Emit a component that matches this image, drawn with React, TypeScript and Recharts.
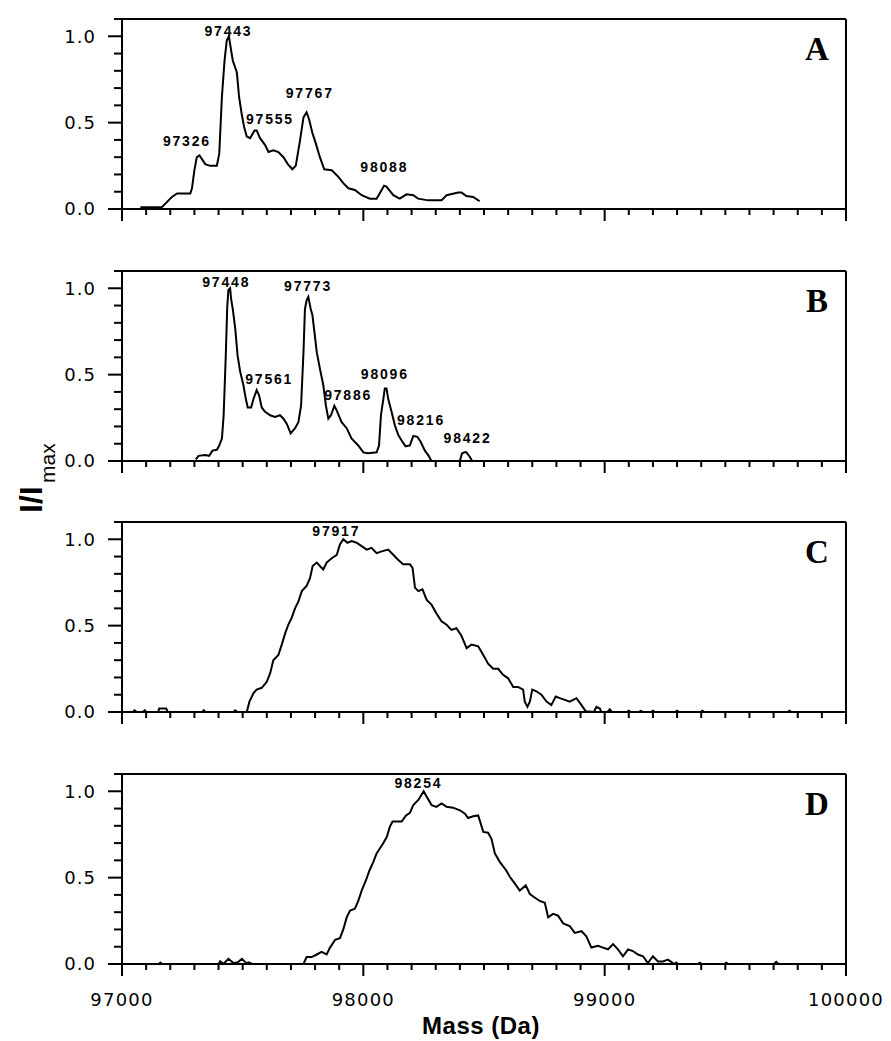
import React from 'react';
import { ComposedChart, Line, XAxis, YAxis, ReferenceLine, ReferenceDot } from 'recharts';

type Pt = [number, number];
type Peak = [number, number, string];

// Mass (Da), I/Imax
const traceA: Pt[] = [
  [97076, 0.01], [97165, 0.01], [97207, 0.07], [97228, 0.09], [97283, 0.09], [97290, 0.12], [97300, 0.225],
  [97310, 0.3], [97321, 0.31], [97345, 0.26], [97365, 0.25], [97393, 0.25], [97403, 0.32], [97414, 0.65],
  [97425, 0.86], [97434, 0.975], [97443, 1.0], [97452, 0.92], [97459, 0.86], [97476, 0.79], [97485, 0.65],
  [97496, 0.55], [97506, 0.475], [97517, 0.42], [97531, 0.41], [97549, 0.455], [97558, 0.455], [97572, 0.41],
  [97593, 0.37], [97607, 0.33], [97627, 0.34], [97648, 0.33], [97669, 0.3], [97687, 0.26], [97706, 0.23],
  [97720, 0.25], [97738, 0.4], [97752, 0.53], [97765, 0.56], [97775, 0.52], [97789, 0.44], [97803, 0.38],
  [97820, 0.3], [97838, 0.23], [97869, 0.225], [97894, 0.19], [97917, 0.15], [97938, 0.12], [97965, 0.11],
  [97993, 0.08], [98027, 0.06], [98055, 0.06], [98086, 0.135], [98096, 0.13], [98124, 0.08], [98151, 0.06],
  [98179, 0.085], [98207, 0.08], [98227, 0.06], [98269, 0.05], [98324, 0.05], [98345, 0.08], [98393, 0.095],
  [98407, 0.095], [98427, 0.075], [98455, 0.07], [98482, 0.045],
];

const traceB: Pt[] = [
  [97306, 0.01], [97317, 0.03], [97345, 0.035], [97361, 0.03], [97375, 0.06], [97393, 0.065], [97403, 0.09],
  [97414, 0.13], [97421, 0.26], [97430, 0.61], [97436, 0.89], [97441, 0.99], [97448, 1.0], [97452, 0.94],
  [97459, 0.88], [97469, 0.77], [97479, 0.61], [97490, 0.515], [97503, 0.44], [97513, 0.36], [97521, 0.31],
  [97535, 0.31], [97545, 0.36], [97558, 0.41], [97568, 0.38], [97579, 0.31], [97593, 0.285], [97614, 0.265],
  [97634, 0.255], [97655, 0.265], [97669, 0.245], [97683, 0.215], [97699, 0.16], [97717, 0.19], [97731, 0.225],
  [97742, 0.32], [97752, 0.63], [97758, 0.88], [97765, 0.93], [97772, 0.95], [97782, 0.88], [97789, 0.845],
  [97797, 0.75], [97807, 0.63], [97820, 0.535], [97834, 0.44], [97845, 0.32], [97855, 0.245], [97866, 0.265],
  [97880, 0.32], [97889, 0.295], [97910, 0.225], [97931, 0.19], [97951, 0.13], [97979, 0.09], [98000, 0.05],
  [98020, 0.045], [98055, 0.05], [98065, 0.09], [98073, 0.265], [98083, 0.36], [98089, 0.42], [98096, 0.42],
  [98103, 0.36], [98117, 0.285], [98131, 0.205], [98145, 0.15], [98158, 0.12], [98175, 0.085], [98193, 0.09],
  [98207, 0.145], [98224, 0.14], [98238, 0.11], [98255, 0.06], [98271, 0.03], [98282, 0], [98400, 0],
  [98409, 0.045], [98420, 0.05], [98427, 0.05], [98441, 0.025], [98451, 0],
];

const traceC: Pt[] = [
  [97045, 0], [97052, 0.01], [97060, 0], [97087, 0], [97094, 0.01], [97100, 0], [97150, 0], [97154, 0.02],
  [97183, 0.02], [97190, 0], [97332, 0], [97339, 0.01], [97345, 0], [97462, 0], [97469, 0.01], [97478, 0],
  [97517, 0], [97528, 0.06], [97545, 0.11], [97558, 0.13], [97579, 0.14], [97600, 0.175], [97614, 0.225],
  [97627, 0.3], [97648, 0.33], [97662, 0.39], [97676, 0.455], [97689, 0.505], [97703, 0.545], [97717, 0.6],
  [97731, 0.64], [97745, 0.7], [97765, 0.73], [97779, 0.775], [97790, 0.845], [97807, 0.865], [97820, 0.845],
  [97834, 0.825], [97848, 0.865], [97869, 0.89], [97890, 0.91], [97903, 0.97], [97917, 1.0], [97934, 0.98],
  [97952, 0.99], [97972, 0.98], [97993, 0.96], [98014, 0.94], [98034, 0.95], [98055, 0.92], [98076, 0.93],
  [98103, 0.94], [98124, 0.91], [98145, 0.88], [98165, 0.855], [98193, 0.855], [98204, 0.835], [98214, 0.72],
  [98228, 0.7], [98245, 0.71], [98262, 0.65], [98283, 0.62], [98303, 0.57], [98324, 0.525], [98345, 0.505],
  [98365, 0.475], [98386, 0.485], [98407, 0.44], [98428, 0.37], [98448, 0.39], [98476, 0.38], [98497, 0.33],
  [98517, 0.28], [98538, 0.25], [98559, 0.25], [98579, 0.215], [98600, 0.195], [98621, 0.145], [98641, 0.145],
  [98662, 0.13], [98669, 0.06], [98680, 0.03], [98690, 0.06], [98700, 0.13], [98717, 0.12], [98738, 0.1],
  [98759, 0.06], [98779, 0.04], [98797, 0.09], [98814, 0.08], [98835, 0.07], [98855, 0.06], [98883, 0.08],
  [98904, 0.04], [98921, 0.005], [98955, 0], [98966, 0.03], [98980, 0.02], [98986, 0], [99012, 0],
  [99021, 0.015], [99030, 0], [99092, 0], [99100, 0.008], [99108, 0], [99142, 0], [99150, 0.006], [99158, 0],
  [99192, 0], [99200, 0.008], [99208, 0], [99292, 0], [99300, 0.008], [99308, 0], [99397, 0], [99405, 0.008],
  [99413, 0], [99758, 0], [99766, 0.008], [99774, 0],
];

const traceD: Pt[] = [
  [97152, 0], [97159, 0.008], [97166, 0], [97400, 0], [97407, 0.016], [97420, 0], [97441, 0.03], [97462, 0.005],
  [97480, 0.01], [97497, 0.03], [97515, 0.005], [97524, 0.01], [97540, 0], [97752, 0], [97765, 0.04],
  [97786, 0.04], [97807, 0.055], [97827, 0.07], [97848, 0.055], [97862, 0.095], [97883, 0.14], [97903, 0.15],
  [97917, 0.2], [97931, 0.27], [97945, 0.31], [97965, 0.32], [97979, 0.365], [97993, 0.425], [98011, 0.485],
  [98025, 0.54], [98041, 0.59], [98055, 0.64], [98069, 0.67], [98083, 0.7], [98097, 0.735], [98110, 0.795],
  [98121, 0.825], [98159, 0.825], [98177, 0.86], [98193, 0.875], [98207, 0.92], [98228, 0.95], [98250, 1.0],
  [98262, 0.97], [98283, 0.92], [98303, 0.91], [98324, 0.93], [98345, 0.91], [98372, 0.905], [98400, 0.89],
  [98421, 0.87], [98434, 0.845], [98455, 0.855], [98476, 0.86], [98497, 0.765], [98517, 0.76], [98531, 0.725],
  [98545, 0.64], [98566, 0.59], [98593, 0.54], [98607, 0.505], [98628, 0.465], [98648, 0.425], [98673, 0.455],
  [98690, 0.405], [98710, 0.385], [98731, 0.365], [98752, 0.355], [98766, 0.27], [98786, 0.29], [98807, 0.28],
  [98828, 0.235], [98855, 0.22], [98876, 0.18], [98904, 0.19], [98924, 0.16], [98945, 0.095], [98972, 0.105],
  [98993, 0.095], [99014, 0.085], [99035, 0.115], [99055, 0.085], [99076, 0.045], [99097, 0.085], [99117, 0.075],
  [99138, 0.055], [99159, 0.045], [99179, 0.005], [99200, 0.045], [99221, 0.015], [99242, 0.015], [99262, 0.025],
  [99283, 0.005], [99290, 0], [99297, 0.008], [99305, 0], [99386, 0], [99394, 0.008], [99402, 0], [99496, 0],
  [99504, 0.008], [99512, 0], [99702, 0], [99711, 0.012], [99720, 0],
];

// Peak annotations: label anchor (mass, I/Imax) and text
const peaksA: Peak[] = [
  [97441, 1.004, '97443'], [97269, 0.365, '97326'], [97613, 0.494, '97555'], [97778, 0.642, '97767'],
  [98087, 0.212, '98088'],
];
const peaksB: Peak[] = [
  [97432, 1.008, '97448'], [97771, 0.984, '97773'], [97610, 0.448, '97561'], [97937, 0.353, '97886'],
  [98089, 0.477, '98096'], [98239, 0.21, '98216'], [98432, 0.106, '98422'],
];
const peaksC: Peak[] = [[97888, 1.017, '97917']];
const peaksD: Peak[] = [[98228, 1.019, '98254']];

const panelLetters = ['A', 'B', 'C', 'D'];
const xMajorTicks = [97000, 98000, 99000, 100000];
const xMinorStep = 100;
const xTicks: number[] = [];
for (let v = xMajorTicks[0]; v <= xMajorTicks[xMajorTicks.length - 1]; v += xMinorStep) xTicks.push(v);
const yTicks = [0, 0.1, 0.2, 0.3, 0.4, 0.5, 0.6, 0.7, 0.8, 0.9, 1.0, 1.1];
const yMajorTicks = [0, 0.5, 1.0];

const SANS = "'DejaVu Sans', Verdana, sans-serif";
const ARIAL = "'Liberation Sans', Arial, sans-serif";
const SERIF = "'Liberation Serif', 'Times New Roman', serif";

const XTick = (props: any) => {
  const { x, y, payload, showLabel } = props;
  const v = payload.value;
  const major = xMajorTicks.includes(v);
  return (
    <g>
      <line x1={x} x2={x} y1={y} y2={y + (major ? 12 : 6)} stroke="#000" strokeWidth={2} />
      {showLabel && major && (
        <text x={x} y={y + 42} textAnchor="middle" fontFamily={SANS} fontSize={18} letterSpacing={1.2} fill="#000">
          {v}
        </text>
      )}
    </g>
  );
};

const YTick = (props: any) => {
  const { x, y, payload } = props;
  const v = payload.value;
  const major = yMajorTicks.some((m) => Math.abs(m - v) < 1e-6);
  return (
    <g>
      <line x1={x - (major ? 14 : 8)} x2={x} y1={y} y2={y} stroke="#000" strokeWidth={2} />
      {major && (
        <text x={x - 26} y={y} dy="0.36em" textAnchor="end" fontFamily={SANS} fontSize={18} letterSpacing={1} fill="#000">
          {v.toFixed(1)}
        </text>
      )}
    </g>
  );
};

function Panel({ trace, peaks, letter, top, showX }: { trace: Pt[]; peaks: Peak[]; letter: string; top: number; showX: boolean }) {
  const data = trace.map(([m, v]) => ({ m, v }));
  return (
    <div style={{ position: 'absolute', left: 0, top }}>
      <ComposedChart width={891} height={250} margin={{ top: 10, right: 45, bottom: 0, left: 72 }} data={data}>
        <XAxis
          dataKey="m"
          type="number"
          domain={[97000, 100000]}
          ticks={xTicks}
          interval={0}
          tickSize={0}
          tickMargin={0}
          height={50}
          allowDataOverflow
          axisLine={{ stroke: '#000', strokeWidth: 2 }}
          tick={(p: any) => <XTick {...p} showLabel={showX} />}
        />
        <YAxis
          type="number"
          domain={[0, 1.1]}
          ticks={yTicks}
          interval={0}
          width={50}
          tickSize={0}
          tickMargin={0}
          allowDataOverflow
          axisLine={{ stroke: '#000', strokeWidth: 2 }}
          tick={(p: any) => <YTick {...p} />}
        />
        <ReferenceLine y={1.1} stroke="#000" strokeWidth={2} />
        <ReferenceLine x={100000} stroke="#000" strokeWidth={2} />
        <Line dataKey="v" type="linear" stroke="#000" strokeWidth={2} dot={false} activeDot={false} isAnimationActive={false} />
        {peaks.map(([m, v, t]) => (
          <ReferenceDot
            key={t}
            x={m}
            y={v}
            r={0}
            shape={(p: any) => (
              <text x={p.cx} y={p.cy} textAnchor="middle" fontFamily={ARIAL} fontWeight="bold" fontSize={14} letterSpacing={1.8} fill="#000">
                {t}
              </text>
            )}
          />
        ))}
        <ReferenceDot
          x={99880}
          y={0.86}
          r={0}
          shape={(p: any) => (
            <text x={p.cx} y={p.cy} textAnchor="middle" fontFamily={SERIF} fontWeight="bold" fontSize={33} fill="#000">
              {letter}
            </text>
          )}
        />
      </ComposedChart>
    </div>
  );
}

export default function App() {
  const traces = [traceA, traceB, traceC, traceD];
  const peaks = [peaksA, peaksB, peaksC, peaksD];
  const tops = [9, 261, 512, 764];
  return (
    <div style={{ position: 'absolute', left: 0, top: 0, width: 891, height: 1041, background: '#fff' }}>
      {traces.map((t, i) => (
        <Panel key={i} trace={t} peaks={peaks[i]} letter={panelLetters[i]} top={tops[i]} showX={i === 3} />
      ))}
      <svg width={891} height={1041} style={{ position: 'absolute', left: 0, top: 0, pointerEvents: 'none' }}>
        <text transform="translate(42,513) rotate(-90)" fontFamily={ARIAL} fontWeight="bold" fontSize={32} fill="#000">
          I/I
        </text>
        <text transform="translate(55,483) rotate(-90)" fontFamily={ARIAL} fontSize={21} fill="#000">
          max
        </text>
        <text x={481} y={1034} textAnchor="middle" fontFamily={ARIAL} fontWeight="bold" fontSize={24} letterSpacing={0.5} fill="#000">
          Mass (Da)
        </text>
      </svg>
    </div>
  );
}
